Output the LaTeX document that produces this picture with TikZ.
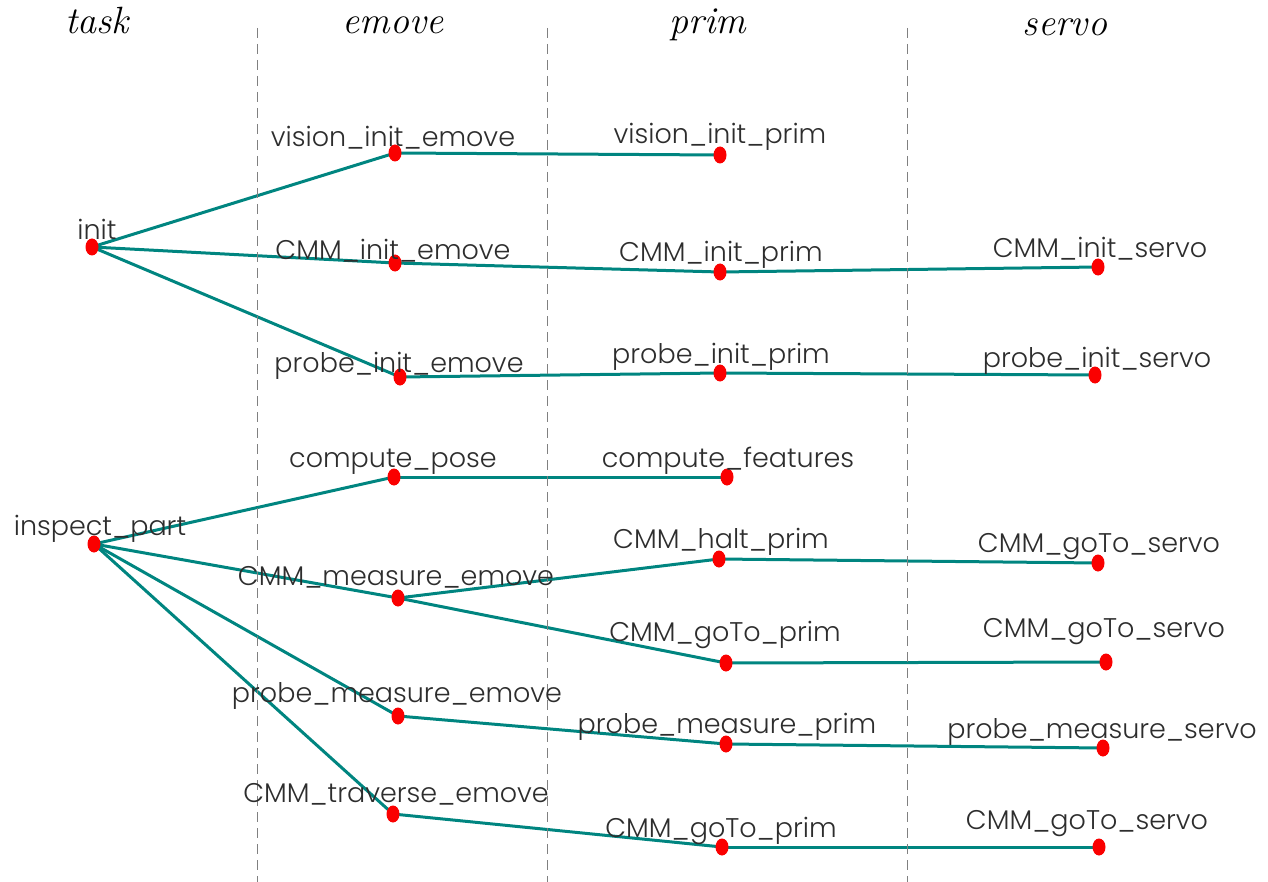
\documentclass[tikz,border=0pt]{standalone}
\usepackage{fontspec}
\newfontfamily\lblfont{Poppins}[UprightFont=* Light]
\usepackage{tikz}
\usetikzlibrary{shapes.geometric,backgrounds}
\definecolor{linkteal}{RGB}{0,133,128}
\definecolor{dotred}{RGB}{250,0,0}
\definecolor{txtgray}{RGB}{45,45,45}
\tikzset{
  every picture/.style = {
    x = 0.5pt,
    y = -0.5pt,
  }
  ,
  dot/.style = {
    ellipse,
    fill = dotred,
    inner sep = 0pt,
    minimum width = 6.5pt,
    minimum height = 8.5pt
  }
  , % labels of dots
  lbl/.style = {
    anchor = base,
    inner sep = 0pt,
    text = txtgray,
    font = \lblfont\fontsize{13.5}{15}\selectfont
  }
  , % column heads
  hdr/.style = {
    anchor = base,
    inner sep = 0pt,
    font = \fontsize{19}{21}\selectfont\itshape
  }
  ,
  link/.style = {
    draw = linkteal,
    line width = 1.5pt
  }
  ,
  sep/.style = {
    draw = gray,
    dash pattern = on 5pt off 3pt,
    line width = 0.4pt
  }
}
\begin{document}
\begin{tikzpicture}
  \useasboundingbox (0,0) rectangle (1268,882);
  % column heads and separators
  \node [hdr] (h-task) at (97,34) {task};
  \node [hdr] (h-emove) at (393,34) {emove};
  \node [hdr] (h-prim) at (708,34) {prim};
  \node [hdr] (h-servo) at (1065,36) {servo};
  \foreach \x/\n in {257/1,547/2,907/3} {
    \coordinate (s\n-top) at (\x,28);
    \coordinate (s\n-bot) at (\x,882);
    \path [sep] (s\n-top) -- (s\n-bot);
  }
  % task level
  \node [dot] (init) at (92,247) {};
  \node [dot] (insp) at (94,544) {};
  % emove level
  \node [dot] (vie) at (395,153) {};
  \node [dot] (cie) at (395,263) {};
  \node [dot] (pie) at (400,377) {};
  \node [dot] (cpo) at (394,477) {};
  \node [dot] (cme) at (398,598) {};
  \node [dot] (pme) at (398,716) {};
  \node [dot] (cte) at (393,814) {};
  % prim level
  \node [dot] (vip) at (720,155) {};
  \node [dot] (cip) at (720,272) {};
  \node [dot] (pip) at (720,373) {};
  \node [dot] (cfe) at (727,477) {};
  \node [dot] (chp) at (719,559) {};
  \node [dot] (cgp1) at (726,663) {};
  \node [dot] (pmp) at (726,744) {};
  \node [dot] (cgp2) at (722,847) {};
  % servo level
  \node [dot] (cis) at (1098,267) {};
  \node [dot] (pis) at (1095,375) {};
  \node [dot] (cgs1) at (1098,563) {};
  \node [dot] (cgs2) at (1106,662) {};
  \node [dot] (pms) at (1103,748) {};
  \node [dot] (cgs3) at (1099,847) {};
  % labels
  \node [lbl] (t-init) at (97,240) {init};
  \node [lbl] (t-insp) at (100,535) {inspect\_part};
  \node [lbl] (t-vie) at (393,147) {vision\_init\_emove};
  \node [lbl] (t-cie) at (393,259) {CMM\_init\_emove};
  \node [lbl] (t-pie) at (399,372) {probe\_init\_emove};
  \node [lbl] (t-cpo) at (393,467) {compute\_pose};
  \node [lbl] (t-cme) at (396,585) {CMM\_measure\_emove};
  \node [lbl] (t-pme) at (397,702) {probe\_measure\_emove};
  \node [lbl] (t-cte) at (396,802) {CMM\_traverse\_emove};
  \node [lbl] (t-vip) at (720,144) {vision\_init\_prim};
  \node [lbl] (t-cip) at (721,262) {CMM\_init\_prim};
  \node [lbl] (t-pip) at (721,363) {probe\_init\_prim};
  \node [lbl] (t-cfe) at (728,467) {compute\_features};
  \node [lbl] (t-chp) at (721,548) {CMM\_halt\_prim};
  \node [lbl] (t-cgp1) at (725,641) {CMM\_goTo\_prim};
  \node [lbl] (t-pmp) at (727,733) {probe\_measure\_prim};
  \node [lbl] (t-cgp2) at (721,837) {CMM\_goTo\_prim};
  \node [lbl] (t-cis) at (1100,257) {CMM\_init\_servo};
  \node [lbl] (t-pis) at (1097,367) {probe\_init\_servo};
  \node [lbl] (t-cgs1) at (1099,552) {CMM\_goTo\_servo};
  \node [lbl] (t-cgs2) at (1104,637) {CMM\_goTo\_servo};
  \node [lbl] (t-pms) at (1102,738) {probe\_measure\_servo};
  \node [lbl] (t-cgs3) at (1087,829) {CMM\_goTo\_servo};
  % links
  \begin{pgfonlayer}{background}
    \foreach \a/\b in {init/vie,init/cie,init/pie,vie/vip,cie/cip,cip/cis,
        pie/pip,pip/pis,insp/cpo,insp/cme,insp/pme,insp/cte,cpo/cfe,
        cme/chp,chp/cgs1,cme/cgp1,cgp1/cgs2,pme/pmp,pmp/pms,cte/cgp2,cgp2/cgs3}
      \path [link] (\a.center) -- (\b.center);
  \end{pgfonlayer}
\end{tikzpicture}
\end{document}
